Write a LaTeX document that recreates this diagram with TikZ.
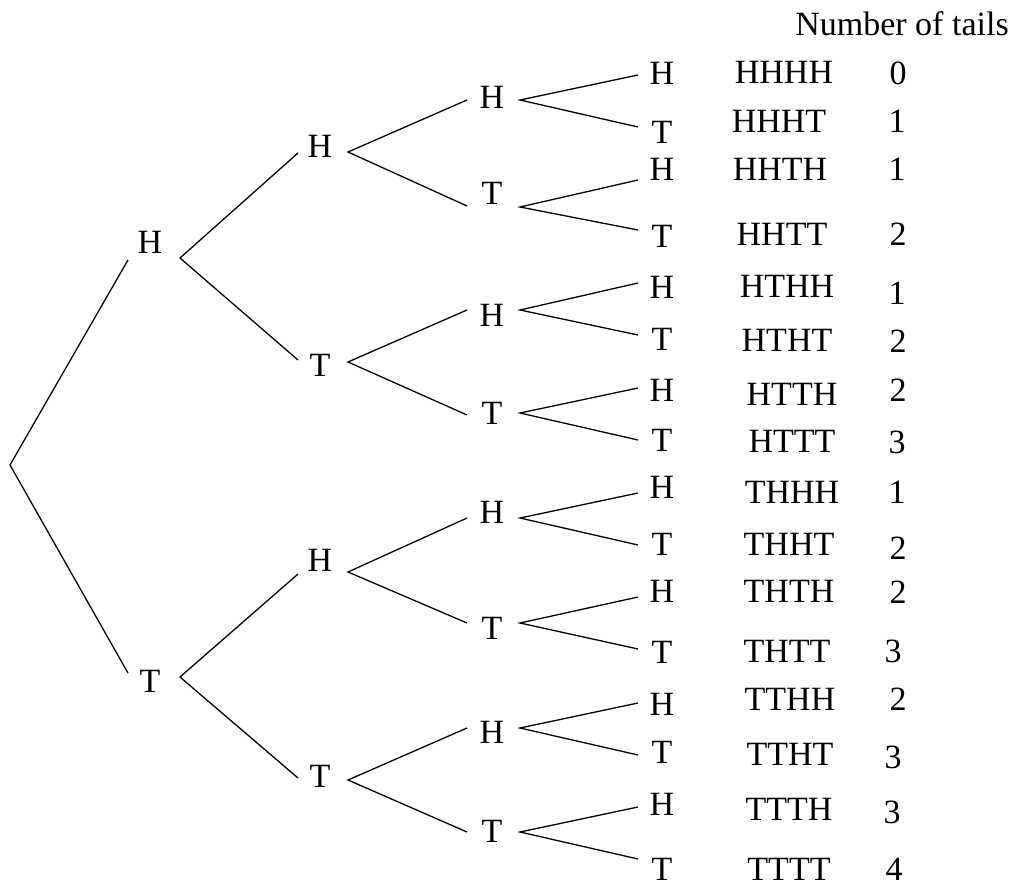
\documentclass[tikz,border=0pt]{standalone}
\usepackage{fontspec}
\setmainfont{Liberation Serif}
\begin{document}
\begin{tikzpicture}[x=1bp,y=-1bp,
  lbl/.style={inner sep=0pt,font=\fontsize{34bp}{40bp}\selectfont},
  branch/.style={line width=1.3bp,black}]
\useasboundingbox (0,0) rectangle (1015,888);
% root
\coordinate (r) at (10,465);
% level 1
\node[lbl] (H) at (150,242) {H}; \coordinate (H-in) at (128,260); \coordinate (H-out) at (180,258);
\node[lbl] (T) at (150,681) {T}; \coordinate (T-in) at (128,673); \coordinate (T-out) at (180,677);
% level 2
\node[lbl] (HH) at (320,146) {H}; \coordinate (HH-in) at (298,153); \coordinate (HH-out) at (348,152);
\node[lbl] (HT) at (320,365) {T}; \coordinate (HT-in) at (298,360); \coordinate (HT-out) at (348,362);
\node[lbl] (TH) at (320,560) {H}; \coordinate (TH-in) at (298,574); \coordinate (TH-out) at (348,572);
\node[lbl] (TT) at (320,776) {T}; \coordinate (TT-in) at (298,778); \coordinate (TT-out) at (348,780);
% level 3
\node[lbl] (HHH) at (492,97)  {H}; \coordinate (HHH-in) at (467,100); \coordinate (HHH-out) at (520,100);
\node[lbl] (HHT) at (492,193) {T}; \coordinate (HHT-in) at (467,206); \coordinate (HHT-out) at (520,207);
\node[lbl] (HTH) at (492,315) {H}; \coordinate (HTH-in) at (467,310); \coordinate (HTH-out) at (520,310);
\node[lbl] (HTT) at (492,413) {T}; \coordinate (HTT-in) at (467,415); \coordinate (HTT-out) at (520,413);
\node[lbl] (THH) at (492,512) {H}; \coordinate (THH-in) at (467,518); \coordinate (THH-out) at (520,518);
\node[lbl] (THT) at (492,628) {T}; \coordinate (THT-in) at (467,623); \coordinate (THT-out) at (520,623);
\node[lbl] (TTH) at (492,732) {H}; \coordinate (TTH-in) at (467,728); \coordinate (TTH-out) at (520,728);
\node[lbl] (TTT) at (492,831) {T}; \coordinate (TTT-in) at (467,832); \coordinate (TTT-out) at (520,832);
% level 4
\node[lbl] (HHHH) at (662,73)  {H}; \coordinate (HHHH-in) at (638,75);
\node[lbl] (HHHT) at (662,132) {T}; \coordinate (HHHT-in) at (638,127);
\node[lbl] (HHTH) at (662,169) {H}; \coordinate (HHTH-in) at (638,180);
\node[lbl] (HHTT) at (662,236) {T}; \coordinate (HHTT-in) at (638,230);
\node[lbl] (HTHH) at (662,287) {H}; \coordinate (HTHH-in) at (638,283);
\node[lbl] (HTHT) at (662,339) {T}; \coordinate (HTHT-in) at (638,335);
\node[lbl] (HTTH) at (662,390) {H}; \coordinate (HTTH-in) at (638,388);
\node[lbl] (HTTT) at (662,440) {T}; \coordinate (HTTT-in) at (638,440);
\node[lbl] (THHH) at (662,487) {H}; \coordinate (THHH-in) at (638,493);
\node[lbl] (THHT) at (662,544) {T}; \coordinate (THHT-in) at (638,545);
\node[lbl] (THTH) at (662,591) {H}; \coordinate (THTH-in) at (638,597);
\node[lbl] (THTT) at (662,652) {T}; \coordinate (THTT-in) at (638,649);
\node[lbl] (TTHH) at (662,704) {H}; \coordinate (TTHH-in) at (638,703);
\node[lbl] (TTHT) at (662,752) {T}; \coordinate (TTHT-in) at (638,755);
\node[lbl] (TTTH) at (662,804) {H}; \coordinate (TTTH-in) at (638,807);
\node[lbl] (TTTT) at (662,869) {T}; \coordinate (TTTT-in) at (638,859);
% branches
\draw[branch] (H-in) -- (r) -- (T-in);
\draw[branch] (HH-in) -- (H-out) -- (HT-in);
\draw[branch] (TH-in) -- (T-out) -- (TT-in);
\draw[branch] (HHH-in) -- (HH-out) -- (HHT-in);
\draw[branch] (HTH-in) -- (HT-out) -- (HTT-in);
\draw[branch] (THH-in) -- (TH-out) -- (THT-in);
\draw[branch] (TTH-in) -- (TT-out) -- (TTT-in);
\draw[branch] (HHHH-in) -- (HHH-out) -- (HHHT-in);
\draw[branch] (HHTH-in) -- (HHT-out) -- (HHTT-in);
\draw[branch] (HTHH-in) -- (HTH-out) -- (HTHT-in);
\draw[branch] (HTTH-in) -- (HTT-out) -- (HTTT-in);
\draw[branch] (THHH-in) -- (THH-out) -- (THHT-in);
\draw[branch] (THTH-in) -- (THT-out) -- (THTT-in);
\draw[branch] (TTHH-in) -- (TTH-out) -- (TTHT-in);
\draw[branch] (TTTH-in) -- (TTT-out) -- (TTTT-in);
% header
\node[lbl] (hdr) at (902,24) {Number of tails};
% outcomes
\node[lbl] (o1)  at (784,72)  {HHHH}; \node[lbl] (c1)  at (898,73)  {0};
\node[lbl] (o2)  at (779,121) {HHHT}; \node[lbl] (c2)  at (897,121) {1};
\node[lbl] (o3)  at (780,169) {HHTH}; \node[lbl] (c3)  at (897,169) {1};
\node[lbl] (o4)  at (782,234) {HHTT}; \node[lbl] (c4)  at (898,234) {2};
\node[lbl] (o5)  at (787,286) {HTHH}; \node[lbl] (c5)  at (897,293) {1};
\node[lbl] (o6)  at (787,340) {HTHT}; \node[lbl] (c6)  at (898,341) {2};
\node[lbl] (o7)  at (792,394) {HTTH}; \node[lbl] (c7)  at (898,390) {2};
\node[lbl] (o8)  at (792,441) {HTTT}; \node[lbl] (c8)  at (897,442) {3};
\node[lbl] (o9)  at (792,492) {THHH}; \node[lbl] (c9)  at (897,492) {1};
\node[lbl] (o10) at (789,544) {THHT}; \node[lbl] (c10) at (898,548) {2};
\node[lbl] (o11) at (789,591) {THTH}; \node[lbl] (c11) at (898,592) {2};
\node[lbl] (o12) at (787,651) {THTT}; \node[lbl] (c12) at (893,651) {3};
\node[lbl] (o13) at (790,699) {TTHH}; \node[lbl] (c13) at (898,699) {2};
\node[lbl] (o14) at (790,754) {TTHT}; \node[lbl] (c14) at (893,757) {3};
\node[lbl] (o15) at (789,809) {TTTH}; \node[lbl] (c15) at (892,812) {3};
\node[lbl] (o16) at (789,869) {TTTT}; \node[lbl] (c16) at (894,869) {4};
\end{tikzpicture}
\end{document}
